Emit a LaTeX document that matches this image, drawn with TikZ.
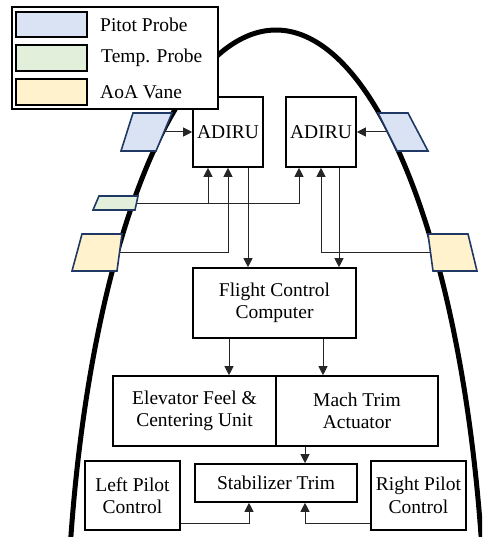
\documentclass[tikz,border=0pt]{standalone}
\usepackage{fontspec}
\setmainfont{Liberation Serif}
\usepackage{tikz}
\usetikzlibrary{arrows.meta}

\definecolor{probeline}{HTML}{1F3864}
\definecolor{pitotfill}{HTML}{DAE3F3}
\definecolor{tempfill}{HTML}{E2EFDA}
\definecolor{aoafill}{HTML}{FFF2CC}

\begin{document}
\begin{tikzpicture}[x=1pt, y=-1pt,
  box/.style={draw, line width=1.6pt, fill=white, align=center, inner sep=0pt,
    font=\rmfamily\fontsize{19.5}{22.5}\selectfont},
  link/.style={draw=black!85, line width=1pt},
  arr/.style={link, -{Triangle[length=9pt, width=9pt]}},
  probe/.style={draw=probeline, line width=1.6pt},
  legtext/.style={anchor=west, inner sep=0pt, font=\rmfamily\fontsize{19.5}{22.5}\selectfont}]
  \useasboundingbox (0,0) rectangle (482,537);
  \clip (0,0) rectangle (482,537);

  % Fuselage
  \draw[line width=5pt] plot[smooth, domain=190:350, samples=80]
    ({276+210*cos(\x)}, {675+645*sin(\x)});

  % Blocks
  \node[box, minimum width=70pt, minimum height=70pt] (adiruL) at (228,132) {ADIRU};
  \node[box, minimum width=70pt, minimum height=70pt] (adiruR) at (321,132) {ADIRU};
  \node[box, minimum width=163pt, minimum height=70pt] (fcc) at (274.5,303) {Flight Control\\Computer};
  \node[box, minimum width=163pt, minimum height=70pt] (elev) at (194.5,411) {Elevator Feel \&\\Centering Unit};
  \node[box, minimum width=162pt, minimum height=70pt] (mach) at (357,411) {Mach Trim\\Actuator};
  \node[box, minimum width=162pt, minimum height=38pt] (stab) at (276,483) {Stabilizer Trim};
  \node[box, minimum width=95pt, minimum height=69pt] (lpilot) at (132.5,495.5) {Left Pilot\\Control};
  \node[box, minimum width=95pt, minimum height=69pt] (rpilot) at (418.5,495.5) {Right Pilot\\Control};

  % Probe taps
  \coordinate (pitotL) at (165,132);
  \coordinate (pitotR) at (387,132);
  \coordinate (tempL) at (137,203);
  \coordinate (aoaL) at (120,252);
  \coordinate (aoaR) at (431,252);

  % Connectors
  \draw[arr] (pitotL) -- (adiruL.west);
  \draw[arr] (pitotR) -- (adiruR.east);
  \draw[arr] (tempL) -| ([xshift=-22pt]adiruR.south);
  \draw[arr] ([xshift=-20pt]adiruL.south |- tempL) -- ([xshift=-20pt]adiruL.south);
  \draw[arr] (aoaL) -| (adiruL.south);
  \draw[arr] (aoaR) -| (adiruR.south);
  \draw[arr] ([xshift=20pt]adiruL.south) -- ([xshift=20pt]adiruL.south |- fcc.north);
  \draw[arr] ([xshift=18pt]adiruR.south) -- ([xshift=18pt]adiruR.south |- fcc.north);
  \draw[arr] ([xshift=-45.5pt]fcc.south) -- ([xshift=-45.5pt]fcc.south |- elev.north);
  \draw[arr] ([xshift=48.5pt]fcc.south) -- ([xshift=48.5pt]fcc.south |- mach.north);
  \draw[arr] ([xshift=-52pt]mach.south) -- ([xshift=-52pt]mach.south |- stab.north);
  \draw[arr] ([yshift=-27.5pt]lpilot.east) -| ([xshift=-27pt]stab.south);
  \draw[arr] ([yshift=-27.5pt]rpilot.west) -| ([xshift=29pt]stab.south);

  % Probes
  \draw[probe, fill=pitotfill] (121,151) -- (133,113) -- (172,113) -- (156,151) -- cycle;
  \draw[probe, fill=pitotfill] (378,113) -- (408,113) -- (428,151) -- (397,151) -- cycle;
  \draw[probe, fill=tempfill] (93,210) -- (99,196) -- (138,196) -- (135,210) -- cycle;
  \draw[probe, fill=aoafill] (72,271) -- (82,234) -- (122,234) -- (117,271) -- cycle;
  \draw[probe, fill=aoafill] (428,234) -- (468,234) -- (477,271) -- (433,271) -- cycle;

  % Legend
  \draw[line width=1.6pt, fill=white] (12,7) rectangle (218,109);
  \draw[line width=1.6pt, fill=pitotfill] (16,12) rectangle (87,37);
  \draw[line width=1.6pt, fill=tempfill] (16,45) rectangle (87,71);
  \draw[line width=1.6pt, fill=aoafill] (16,79) rectangle (87,105);
  \node[legtext] (legPitot) at (100,25) {Pitot Probe};
  \node[legtext] (legTemp) at (101,58) {Temp. Probe};
  \node[legtext] (legAoa) at (100,92) {AoA Vane};
\end{tikzpicture}
\end{document}
